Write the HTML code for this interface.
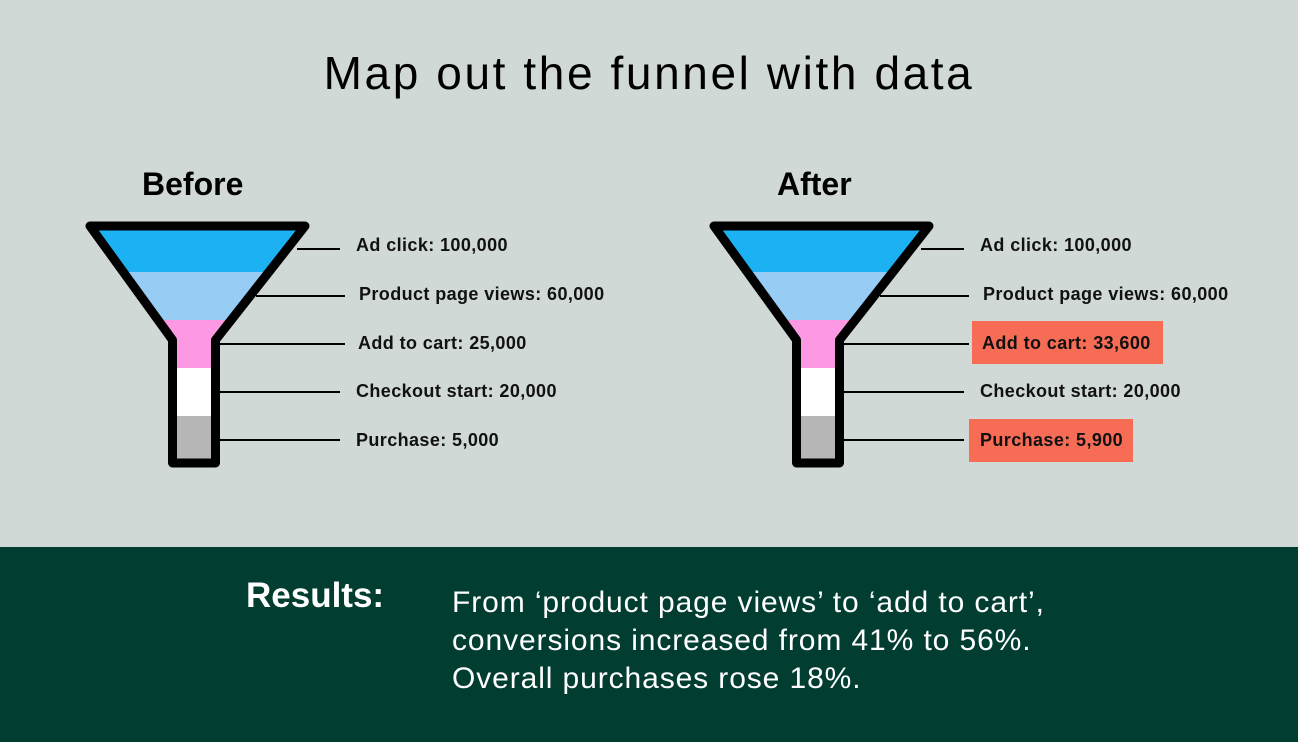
<!DOCTYPE html>
<html><head><meta charset="utf-8"><style>
body{margin:0;width:1298px;height:742px;background:#d1d9d6;font-family:"Liberation Sans",sans-serif;position:relative;overflow:hidden}
.t{position:absolute;white-space:nowrap;color:#000}
.l{font-size:18px;font-weight:bold;letter-spacing:0.4px;color:#111}
</style></head><body>
<div class="t" style="left:0;width:1298px;text-align:center;top:46px;font-size:46px;letter-spacing:2.6px;">Map out the funnel with data</div>
<div class="t" style="left:142px;top:166px;font-size:32px;font-weight:bold;">Before</div>
<div class="t" style="left:777px;top:166px;font-size:32px;font-weight:bold;">After</div>
<svg width="1298" height="547" style="position:absolute;left:0;top:0">
<defs>
<clipPath id="c"><path d="M90,226 L305,226 L215.5,340 L215.5,463 L172.5,463 L172.5,340 Z"/></clipPath>
<g id="f">
<g clip-path="url(#c)">
<rect x="80" y="220" width="240" height="52" fill="#1cb1f3"/>
<rect x="80" y="272" width="240" height="48" fill="#97cdf5"/>
<rect x="80" y="320" width="240" height="48" fill="#fd98e3"/>
<rect x="80" y="368" width="240" height="48" fill="#ffffff"/>
<rect x="80" y="416" width="240" height="50" fill="#b6b6b6"/>
</g>
<path d="M90,226 L305,226 L215.5,340 L215.5,463 L172.5,463 L172.5,340 Z" fill="none" stroke="#000" stroke-width="9" stroke-linejoin="round"/>
<g stroke="#000" stroke-width="2">
<line x1="297" y1="249" x2="340" y2="249"/>
<line x1="256" y1="296" x2="345" y2="296"/>
<line x1="219" y1="344" x2="345" y2="344"/>
<line x1="219" y1="392" x2="340" y2="392"/>
<line x1="219" y1="440" x2="340" y2="440"/>
</g>
</g>
</defs>
<use href="#f"/>
<use href="#f" transform="translate(624,0)"/>
<rect x="972" y="321" width="191" height="43" fill="#f76c55"/>
<rect x="969" y="419" width="164" height="43" fill="#f76c55"/>
</svg>
<div class="t l" style="left:356px;top:235px">Ad click: 100,000</div>
<div class="t l" style="left:359px;top:284px">Product page views: 60,000</div>
<div class="t l" style="left:358px;top:333px">Add to cart: 25,000</div>
<div class="t l" style="left:356px;top:381px">Checkout start: 20,000</div>
<div class="t l" style="left:356px;top:430px">Purchase: 5,000</div>
<div class="t l" style="left:980px;top:235px">Ad click: 100,000</div>
<div class="t l" style="left:983px;top:284px">Product page views: 60,000</div>
<div class="t l" style="left:982px;top:333px">Add to cart: 33,600</div>
<div class="t l" style="left:980px;top:381px">Checkout start: 20,000</div>
<div class="t l" style="left:980px;top:430px">Purchase: 5,900</div>
<div style="position:absolute;left:0;top:547px;width:1298px;height:195px;background:#013d31"></div>
<div class="t" style="left:246px;top:576px;font-size:35px;font-weight:bold;color:#fff">Results:</div>
<div class="t" style="left:452px;top:584px;font-size:30px;letter-spacing:0.9px;line-height:38px;color:#fff">From ‘product page views’ to ‘add to cart’,<br>conversions increased from 41% to 56%.<br>Overall purchases rose 18%.</div>
</body></html>
